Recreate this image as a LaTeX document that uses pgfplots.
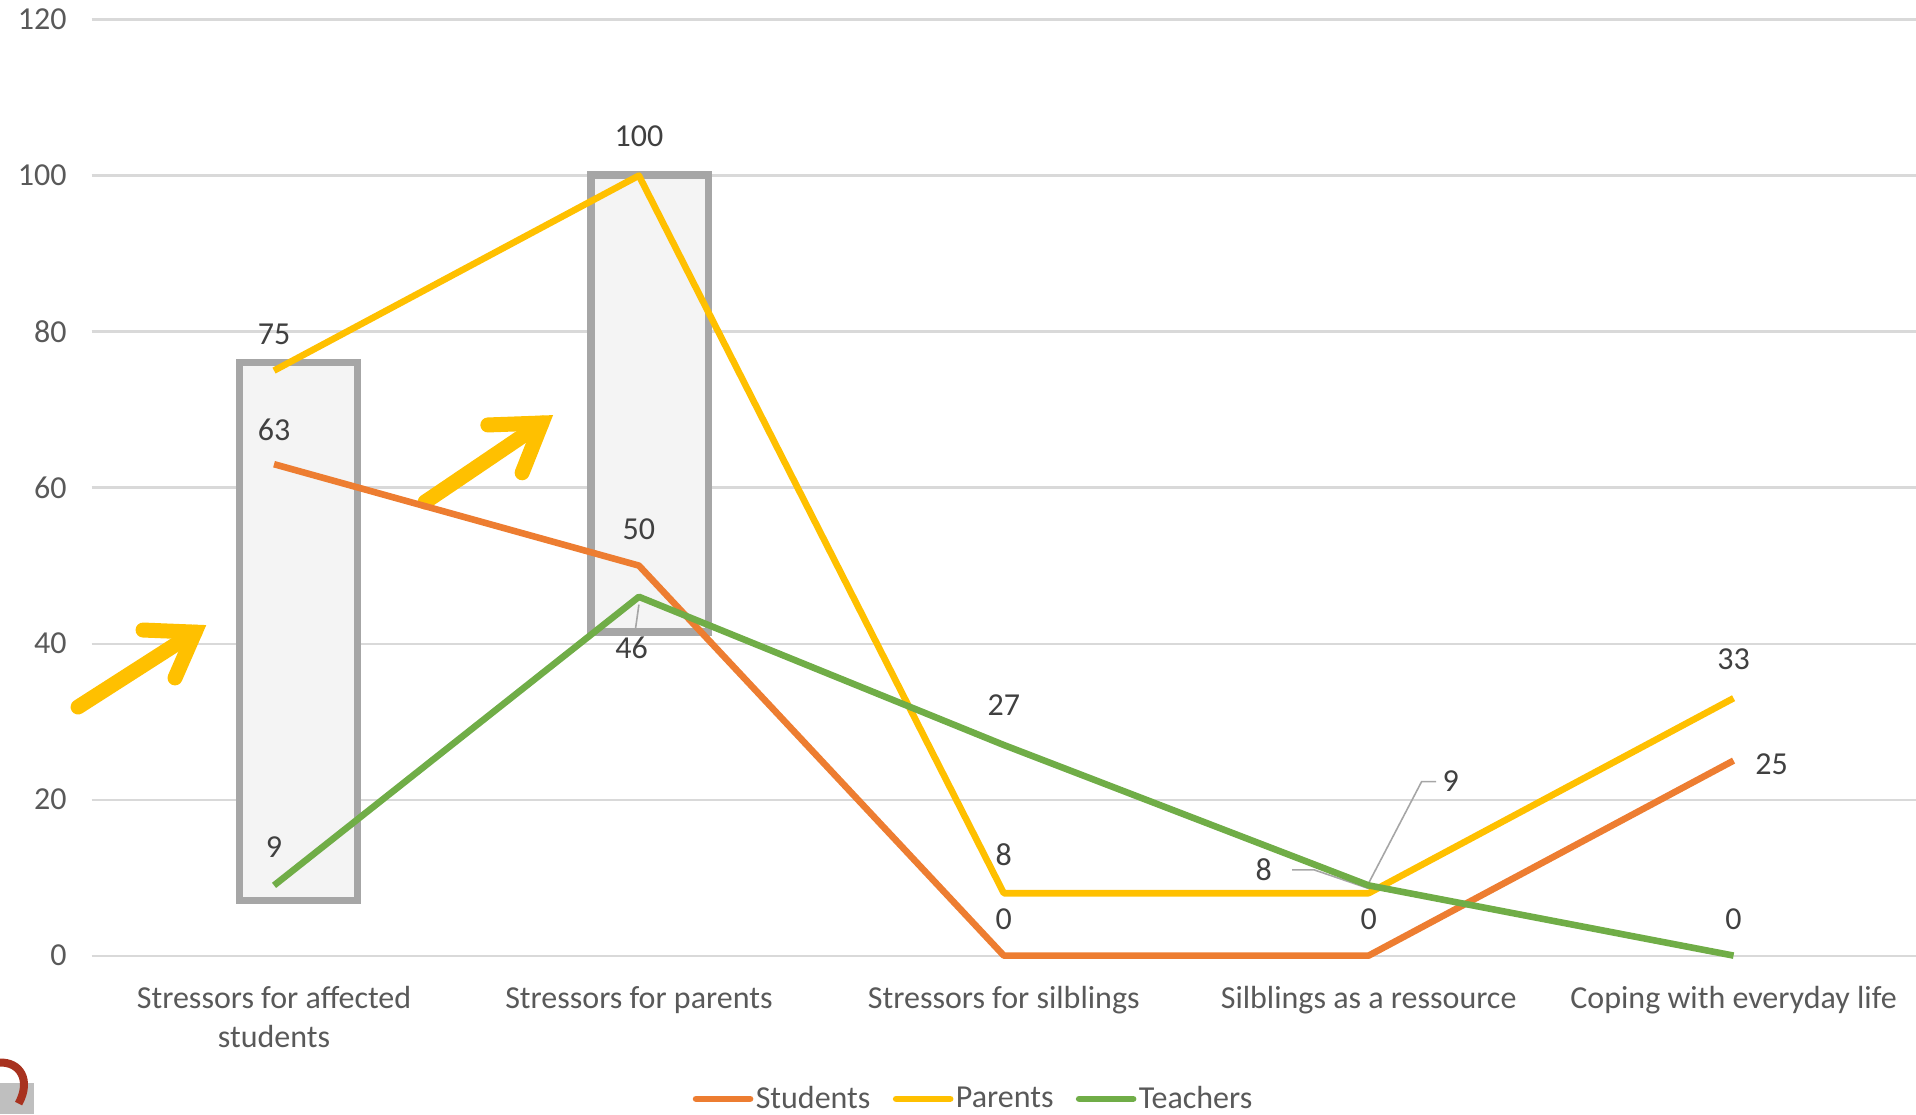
\documentclass[border=0pt]{standalone}
\usepackage{pgfplots}
\pgfplotsset{compat=1.18}
\usepackage{pgfplotstable}
\usepackage{fontspec}
\setmainfont{Carlito}
\usetikzlibrary{arrows.meta}
\definecolor{cS}{HTML}{ED7D31}
\definecolor{cP}{HTML}{FFC000}
\definecolor{cT}{HTML}{70AD47}
\definecolor{gridc}{HTML}{D9D9D9}
\definecolor{tickc}{HTML}{595959}
\definecolor{labc}{HTML}{404040}
\definecolor{rectc}{HTML}{A6A6A6}
\definecolor{rectf}{HTML}{F4F4F4}
\definecolor{leadc}{HTML}{A6A6A6}
\definecolor{logored}{HTML}{A8321F}
\definecolor{logogrey}{HTML}{BFBFBF}

\pgfplotstableread{
x y dx dy
0 63 0 17
1 50 0 18.3
2 0 0 18.3
3 0 0 18.3
4 25 19 -1.8
}\students
\pgfplotstableread{
x y dx dy
0 75 0 18.3
1 100 0 19.5
2 8 0 19.5
3 8 -52.5 11.6
4 33 0 19.5
}\parents
\pgfplotstableread{
x y dx dy
0 9 0 19.2
1 46 -3.7 -25.7
2 27 0 20
3 9 41 52
4 0 0 18.3
}\teachers

\begin{document}
\begin{tikzpicture}
\begin{axis}[
  at={(0,0)}, anchor=south west,
  scale only axis, width=912.2pt, height=468pt,
  xmin=-0.5, xmax=4.5, ymin=0, ymax=120,
  /pgf/number format/assume math mode=true,
  xtick={0,1,2,3,4},
  xticklabels={{Stressors for affected\\students},{Stressors for parents},{Stressors for silblings},{Silblings as a ressource},{Coping with everyday life}},
  xticklabel style={align=center, font=\fontsize{16}{19.5}\selectfont, text=tickc, anchor=north, yshift=-12pt},
  ytick={0,20,40,60,80,100,120},
  yticklabel style={font=\fontsize{16}{18}\selectfont, text=tickc, anchor=east, xshift=-9pt},
  major tick length=0pt,
  ymajorgrids, major grid style={gridc, line width=1.1pt},
  axis line style={draw=none},
  clip=false,
  legend style={at={(0.4835,-0.153)}, anchor=center, draw=none, fill=none,
    font=\fontsize{16}{18}\selectfont, text=tickc, legend columns=3,
    /tikz/every even column/.append style={column sep=10pt},
    legend cell align=left, inner sep=0pt,
    nodes={inner xsep=1.2pt}},
  legend image code/.code={\draw[line width=3.3pt, line cap=round, #1] (0pt,0pt) -- (27pt,0pt);},
  nodes near coords={\pgfmathprintnumber{\pgfplotspointmeta}},
  point meta=explicit,
  visualization depends on={\thisrow{dx} \as \dx},
  visualization depends on={\thisrow{dy} \as \dy},
  every node near coord/.append style={font=\fontsize{16}{18}\selectfont, text=labc, anchor=center, xshift=\dx pt, yshift=\dy pt, inner sep=1pt},
]
% highlight boxes
\draw[draw=rectc, line width=3.7pt, fill=rectf] (axis cs:-0.094,7.05) rectangle (axis cs:0.228,76);
\draw[draw=rectc, line width=3.7pt, fill=rectf] (axis cs:0.869,41.5) rectangle (axis cs:1.191,100.1);
% arrows
\draw[cP, line width=7.5pt, line cap=round, line join=round] (axis cs:-0.537,31.87) -- (axis cs:-0.2166,41.47);
\draw[cP, line width=7.5pt, line cap=round, line join=miter] (axis cs:-0.359,41.74) -- (axis cs:-0.2166,41.47) -- (axis cs:-0.2714,35.6);
\draw[cP, line width=7.5pt, line cap=round, line join=round] (axis cs:0.414,58.15) -- (axis cs:0.734,68.28);
\draw[cP, line width=7.5pt, line cap=round, line join=miter] (axis cs:0.586,68.03) -- (axis cs:0.734,68.28) -- (axis cs:0.680,61.9);
% leader lines
\draw[leadc, line width=0.8pt] (axis cs:1,45) -- (axis cs:0.99,41.7);
\draw[leadc, line width=0.8pt] (axis cs:2.79,11) -- (axis cs:2.85,11) -- (axis cs:3,8.6);
\draw[leadc, line width=0.8pt] (axis cs:3,9.3) -- (axis cs:3.145,22.3) -- (axis cs:3.185,22.3);

\addplot[cS, line width=3.3pt, line join=round, mark=none] table[x=x, y=y, meta=y] {\students};
\addlegendentry{Students}
\addplot[cP, line width=3.3pt, line join=round, mark=none] table[x=x, y=y, meta=y] {\parents};
\addlegendentry{Parents}
\addplot[cT, line width=3.3pt, line join=round, mark=none] table[x=x, y=y, meta=y] {\teachers};
\addlegendentry{Teachers}
\end{axis}
% slide remnants at the corner
\fill[logogrey] (-45.8pt,-79.2pt) rectangle (-28.8pt,-63.7pt);
\draw[logored, line width=4pt] (-46pt,-53.5pt) .. controls (-36pt,-53pt) and (-30pt,-62pt) .. (-36.5pt,-74pt);
\pgfresetboundingbox
\path[use as bounding box] (-45.8pt,-79.2pt) rectangle (912.2pt,477.8pt);
\end{tikzpicture}
\end{document}
